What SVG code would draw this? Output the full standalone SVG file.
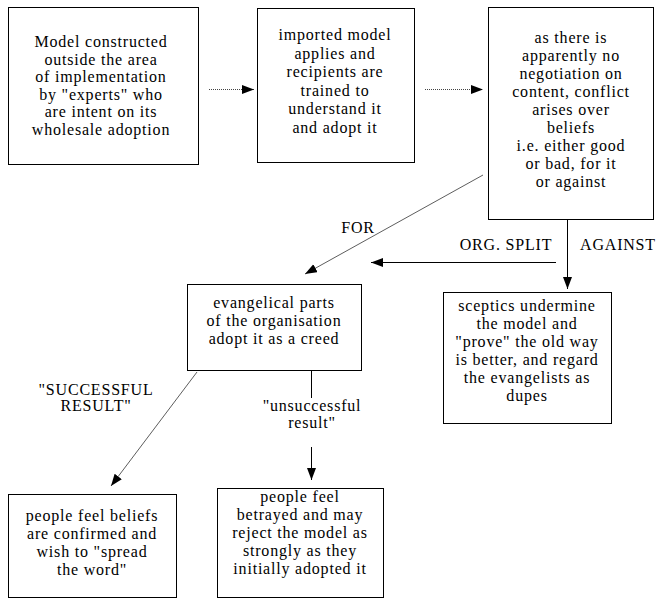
<svg xmlns="http://www.w3.org/2000/svg" width="661" height="598" viewBox="0 0 661 598" font-family="Liberation Serif, serif">
<style>
.bx{fill:#fff;stroke:#000;stroke-width:1;shape-rendering:crispEdges}
.t{font-size:16px;fill:#000;text-anchor:middle;letter-spacing:0.8px}
.dot{stroke:#444;stroke-width:1;stroke-dasharray:1 1;fill:none}
.ln{stroke:#000;stroke-width:1;fill:none}
.thin{stroke:#333;stroke-width:0.8;fill:none}
</style>
<defs>
<marker id="ah" markerUnits="userSpaceOnUse" markerWidth="13" markerHeight="10" refX="12" refY="4.5" orient="auto">
<path d="M0,0 L12,4.5 L0,9 Z" fill="#000"/>
</marker>
</defs>
<rect width="661" height="598" fill="#fff"/>
<g id="connectors">
<line class="dot" x1="209" y1="89.5" x2="254" y2="89.5" marker-end="url(#ah)"/>
<line class="dot" x1="425" y1="89.5" x2="483" y2="89.5" marker-end="url(#ah)"/>
<line class="thin" x1="483" y1="175" x2="305" y2="274" marker-end="url(#ah)"/>
<line class="ln" x1="556" y1="262.5" x2="371" y2="262.5" marker-end="url(#ah)"/>
<line class="ln" x1="567.5" y1="220" x2="567.5" y2="289" marker-end="url(#ah)"/>
<line class="thin" x1="197" y1="372" x2="111" y2="486" marker-end="url(#ah)"/>
<line class="ln" x1="311.5" y1="370" x2="311.5" y2="398"/>
<line class="ln" x1="311.5" y1="447" x2="311.5" y2="480" marker-end="url(#ah)"/>
<text class="t" x="358" y="233">FOR</text>
<text class="t" x="506" y="250">ORG. SPLIT</text>
<text class="t" x="618" y="250">AGAINST</text>
<text class="t" x="96" y="395">"SUCCESSFUL</text>
<text class="t" x="96" y="411">RESULT"</text>
<text class="t" x="312" y="411">"unsuccessful</text>
<text class="t" x="312" y="428">result"</text>
</g>
<g id="n1">
<rect class="bx" x="8.5" y="7.5" width="190" height="157"/>
<text class="t" x="101" y="47">Model constructed</text>
<text class="t" x="101" y="64.5">outside the area</text>
<text class="t" x="101" y="82">of implementation</text>
<text class="t" x="101" y="99.5">by "experts" who</text>
<text class="t" x="101" y="117">are intent on its</text>
<text class="t" x="101" y="134.5">wholesale adoption</text>
</g>
<g id="n2">
<rect class="bx" x="257.5" y="8.5" width="157" height="154"/>
<text class="t" x="335" y="40">imported model</text>
<text class="t" x="335" y="58.5">applies and</text>
<text class="t" x="335" y="77">recipients are</text>
<text class="t" x="335" y="95.5">trained to</text>
<text class="t" x="335" y="114">understand it</text>
<text class="t" x="335" y="132.5">and adopt it</text>
</g>
<g id="n3">
<rect class="bx" x="488.5" y="7.5" width="165" height="212"/>
<text class="t" x="571" y="43">as there is</text>
<text class="t" x="571" y="61">apparently no</text>
<text class="t" x="571" y="79">negotiation on</text>
<text class="t" x="571" y="97">content, conflict</text>
<text class="t" x="571" y="115">arises over</text>
<text class="t" x="571" y="133">beliefs</text>
<text class="t" x="571" y="151">i.e. either good</text>
<text class="t" x="571" y="169">or bad, for it</text>
<text class="t" x="571" y="187">or against</text>
</g>
<g id="n4">
<rect class="bx" x="187.5" y="284.5" width="174" height="86"/>
<text class="t" x="274" y="308">evangelical parts</text>
<text class="t" x="274" y="326">of the organisation</text>
<text class="t" x="274" y="344">adopt it as a creed</text>
</g>
<g id="n5">
<rect class="bx" x="443.5" y="292.5" width="168" height="131"/>
<text class="t" x="527" y="311">sceptics undermine</text>
<text class="t" x="527" y="329">the model and</text>
<text class="t" x="527" y="347">"prove" the old way</text>
<text class="t" x="527" y="365">is better, and regard</text>
<text class="t" x="527" y="383">the evangelists as</text>
<text class="t" x="527" y="401">dupes</text>
</g>
<g id="n6">
<rect class="bx" x="8.5" y="494.5" width="168" height="103"/>
<text class="t" x="92" y="521">people feel beliefs</text>
<text class="t" x="92" y="539">are confirmed and</text>
<text class="t" x="92" y="557">wish to "spread</text>
<text class="t" x="92" y="575">the word"</text>
</g>
<g id="n7">
<rect class="bx" x="217.5" y="488.5" width="166" height="109"/>
<text class="t" x="300" y="502">people feel</text>
<text class="t" x="300" y="520">betrayed and may</text>
<text class="t" x="300" y="538">reject the model as</text>
<text class="t" x="300" y="556">strongly as they</text>
<text class="t" x="300" y="574">initially adopted it</text>
</g>
</svg>
